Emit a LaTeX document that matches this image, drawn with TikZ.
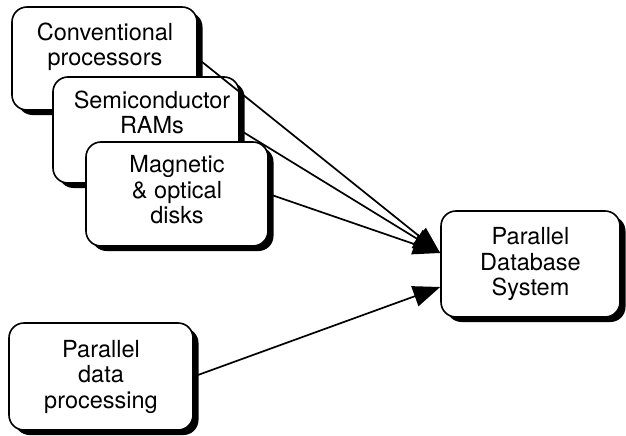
\documentclass[tikz,border=0pt]{standalone}
\usepackage{fontspec}
\setmainfont{TeX Gyre Heros}
\usetikzlibrary{shadows,arrows.meta}
\begin{document}
\begin{tikzpicture}[x=1pt,y=-1pt,
  box/.style={draw=black, line width=1.6pt, fill=white, rounded corners=15pt, inner sep=0pt,
    drop shadow={shadow xshift=5.5pt, shadow yshift=-5pt, fill=black, opacity=1}},
  lbl/.style={font=\fontsize{23.5}{25.5}\selectfont, align=center, inner sep=0pt},
  conn/.style={line width=1.7pt, -{Triangle[length=27pt,width=21pt]}}]
\useasboundingbox (0,0) rectangle (626,436);
% stacked hardware boxes
\node[box, minimum width=185pt, minimum height=103pt] (b1) at (104.5,58.5) {};
\node[lbl, anchor=north] (b1t) at (105,22.5) {Conventional\\processors};
\node[box, minimum width=186pt, minimum height=106pt] (b2) at (146,130) {};
\node[lbl, anchor=north] (b2t) at (152,90.5) {Semiconductor\\RAMs};
\node[box, minimum width=182pt, minimum height=104pt] (b3) at (177,194) {};
\node[lbl, anchor=north] (b3t) at (177,155.5) {Magnetic\\\& optical\\disks};
% target and parallel processing
\node[box, lbl, minimum width=179pt, minimum height=106pt] (pds) at (530.5,264) {Parallel\\Database\\System};
\node[box, lbl, minimum width=184pt, minimum height=107pt] (pdp) at (101,376.5) {Parallel\\data\\processing};
% connectors
\draw[conn] (b1.east) -- ([yshift=11pt]pds.west);
\draw[conn] (b2.east) -- ([yshift=11pt]pds.west);
\draw[conn] (b3.east) -- ([yshift=11pt]pds.west);
\draw[conn] (pdp.east) -- ([yshift=-23pt]pds.west);
\end{tikzpicture}
\end{document}
